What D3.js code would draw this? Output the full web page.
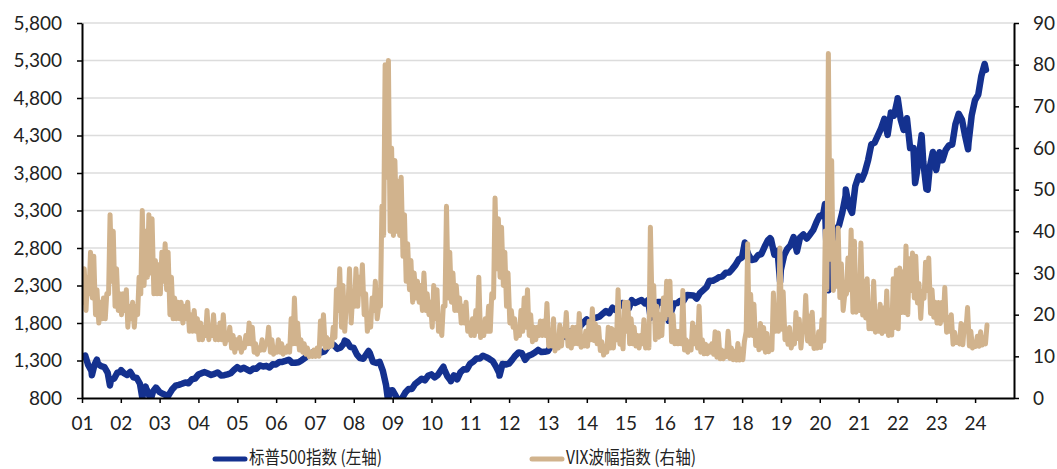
<!DOCTYPE html>
<html>
<head>
<meta charset="utf-8">
<script src="https://cdn.jsdelivr.net/npm/d3@7"></script>
<style>
  body { margin: 0; background: #fff; }
  svg { display: block; }
  .tick text { font-family: Lato, "Noto Sans", sans-serif; font-size: 19px; fill: #222; }
</style>
</head>
<body>
<script>
// S&P 500 month-end closes, Jan 2001 .. Mar 2024
var spxMonthly = [
  1366,1240,1160,1249,1256,1224,1211,1134,1041,1060,1139,1148,
  1130,1107,1147,1077,1067,990,912,916,815,886,936,880,
  856,841,848,917,964,975,990,1008,996,1051,1058,1112,
  1131,1145,1126,1107,1121,1141,1101,1104,1115,1130,1174,1212,
  1181,1204,1181,1157,1192,1191,1234,1220,1229,1207,1249,1248,
  1280,1281,1295,1311,1270,1270,1277,1304,1336,1378,1401,1418,
  1438,1407,1421,1482,1531,1503,1455,1474,1527,1549,1481,1468,
  1379,1331,1323,1386,1400,1280,1267,1283,1166,969,896,903,
  826,735,798,873,919,919,987,1021,1057,1036,1096,1115,
  1074,1104,1169,1187,1089,1031,1102,1049,1141,1183,1181,1258,
  1286,1327,1326,1364,1345,1321,1292,1219,1131,1253,1247,1258,
  1312,1366,1408,1398,1310,1362,1379,1407,1441,1412,1416,1426,
  1498,1515,1569,1598,1631,1606,1686,1633,1682,1757,1806,1848,
  1783,1859,1872,1884,1924,1960,1931,2003,1972,2018,2068,2059,
  1995,2105,2068,2086,2107,2063,2104,1972,1920,2079,2080,2044,
  1940,1932,2060,2065,2097,2099,2174,2171,2168,2126,2199,2239,
  2279,2364,2363,2384,2412,2423,2470,2472,2519,2575,2648,2674,
  2824,2714,2641,2648,2705,2718,2816,2902,2914,2712,2760,2507,
  2704,2784,2834,2946,2752,2942,2980,2926,2977,3038,3141,3231,
  3226,2954,2585,2912,3044,3100,3271,3500,3363,3270,3622,3756,
  3714,3811,3973,4181,4204,4298,4395,4523,4308,4605,4567,4766,
  4516,4374,4530,4132,4132,3785,4130,3955,3586,3872,4080,3840,
  4077,3970,4109,4169,4180,4450,4589,4508,4288,4194,4568,4770,
  4846,5096,5254
];

// intra-month turning points of the S&P line
var spxExtremes = [
  ["2001-01-02",1350],["2001-04-04",1103],["2001-05-21",1312],["2001-09-21",966],
  ["2002-01-04",1172],["2002-07-23",797],["2002-08-22",950],["2002-10-09",777],
  ["2002-11-27",938],["2003-03-11",800],["2007-10-09",1565],["2008-05-19",1426],
  ["2008-11-20",752],["2009-03-09",677],["2010-04-23",1217],["2010-07-02",1023],
  ["2011-10-03",1099],["2015-08-25",1867],["2016-02-11",1829],["2018-01-26",2873],
  ["2018-09-20",2931],["2018-12-24",2351],["2020-02-19",3386],["2020-03-23",2237],
  ["2020-09-02",3580],["2022-01-03",4797],["2022-06-16",3667],["2022-08-16",4305],
  ["2022-10-12",3577],["2023-10-27",4117],["2024-04-12",5175]
];

// VIX monthly low / high, Jan 2001 .. Apr 2024
var vixLow = [
  23,21,25,24,20,18,19,19,25,28,22,21,
  20,21,17,19,17,20,25,27,29,30,25,25,
  25,28,26,20,19,19,19,18,19,16,16,16,
  14,14,15,14,15,14,14,14,13,14,12,11,
  12,11,12,13,13,11,10.5,11.5,11.5,13,11,10.5,
  11,11,10.5,11,11,13,13,11.5,11,10.5,9.9,10,
  10,10,13,12,12.2,12.5,14.5,21,17,16,22,18,
  22,22,25,20,16,17,21,19,22,39,53,40,
  39,40,39,34,28,26,23,24,23,21,21,20,
  17,19,16,15,22,24,23,21,21,18,18,16,
  15,15,16,14.5,15,16,16,24,31,29,27,22,
  18,17,14.3,15,16,17,15,13.5,14,15,15,15,
  12.4,12.5,11.3,12,12.5,15,12.5,12,13,13,12.2,12.5,
  12.4,14,13.8,13,11.4,10.3,11,12,12,14,12.9,11.8,
  16,13,13,12.5,12,13,12,12,20,14,14.6,15,
  19,20,13.5,13,13,13,11.5,11,11.5,13,12,11,
  10.6,10.6,11,10.5,9.8,9.4,9.4,10,9.5,9.2,9.1,9.1,
  9.2,16,15,15,12.6,11.6,12,11,11.1,11.6,16,16,
  16.5,14,12.9,12,13,14.3,12,16,13.7,13,11.9,12,
  12.1,13.7,26,33.3,25.8,26.8,24.1,21,25,26,20.6,20.6,
  21,19.9,19.2,16.6,16.6,15.8,16,15.5,16,15,15.1,16.9,
  16.6,20.5,20.5,20,25.8,24,22.8,19.1,23.9,25.8,20.3,19.4,
  18,17.9,18.7,15.8,16,12.9,13.3,13,12.8,16.7,12.5,12,
  12.4,12.4,12.7,13
];
var vixHigh = [
  31,29,35,34,26,23,24,25,44,40,31,25,
  25,26,22,23,22,29,45,40,44,43,33,32,
  35,37,35,29,24,23,23,22,23,20,21,19,
  18,17,21,17,20,17,18,20,15,17,15,14,
  14.5,13,15,18,17,13,12,14,13,17,14,12,
  14,13,12,12.5,19,24,18,14,13,12,11,11.5,
  12,18.5,20,14.5,14,17,26,31,27,22,31,25,
  31,29,32,25,19,24,28,22,46,80,81,60,
  57,52,53,44,37,33,30,28,27,30,25,23,
  27,26,18,22,46,35,30,27,24,22,23,18,
  19,21,29,17,19,22,25,48,43,41,35,30,
  21,19,17,21,24,26,20,17,17,18.5,18.5,22.7,
  14.5,19,14,17.5,16.5,20.5,16,17,17,20.3,14,16,
  18.4,21.4,17.8,17,13.5,12.5,17,16.7,16.3,26,15,23,
  23,19,17,15,15,18.8,17,41,27,22,20,24,
  28,28,20,16,16,25.8,14,13.5,18,17,22,14,
  12.9,12.5,13,15.9,15.6,11.5,11.2,16,12,11.2,13.1,11.7,
  13.5,37,24.9,22.5,16.2,17.9,16.9,15.5,14,25.2,21.9,36,
  25.5,16.5,16.9,14.5,20.5,18.9,16.1,24.6,19.7,20.6,13.4,15.9,
  18.8,40.1,82.7,57,37.2,40.8,32.2,24.5,33.6,40.3,37.6,25,
  37.2,28,28.6,20,28,20.7,22.5,21.6,25.7,21,28.6,30.7,
  31.2,30.3,36.5,33.4,34.8,34,27.5,25.6,32.6,33.6,26,23,
  22.9,22.9,26.5,19.4,20,15.8,14,17.9,17.5,21.7,16,13,
  14.8,15.9,14.5,17.5
];

var leftTicks = [800,1300,1800,2300,2800,3300,3800,4300,4800,5300,5800];
var rightTicks = [0,10,20,30,40,50,60,70,80,90];
var yearTicks = d3.range(2001, 2025);
var legendNames = ["标普500指数 (左轴)", "VIX波幅指数 (右轴)"];

var width = 1057, height = 469;
var margin = {left: 82, right: 43, top: 23, bottom: 71};
var blue = "#14318f", tan = "#d1b38d";

var parse = d3.timeParse("%Y-%m-%d");

// build series
var spx = spxMonthly.map(function(v, i) {
  return {date: new Date(2001, i + 1, 0), value: v};
}).concat(spxExtremes.map(function(d) {
  return {date: parse(d[0]), value: d[1]};
}));
spx.sort(function(a, b) { return a.date - b.date; });

var vix = [];
vixLow.forEach(function(lo, i) {
  vix.push({date: new Date(2001, i, 8), value: lo});
  vix.push({date: new Date(2001, i, 22), value: vixHigh[i]});
});

var svg = d3.select("body").append("svg").attr("width", width).attr("height", height);

var x = d3.scaleTime()
  .domain([new Date(2001, 0, 1), new Date(2025, 0, 1)])
  .range([margin.left, width - margin.right]);
var yL = d3.scaleLinear().domain([800, 5800]).range([height - margin.bottom, margin.top]);
var yR = d3.scaleLinear().domain([0, 90]).range([height - margin.bottom, margin.top]);

// gridlines
svg.append("g").selectAll("line").data(leftTicks.slice(1)).enter().append("line")
  .attr("x1", margin.left).attr("x2", width - margin.right)
  .attr("y1", function(d) { return yL(d); }).attr("y2", function(d) { return yL(d); })
  .attr("stroke", "#dcdcdc").attr("stroke-width", 1.5);

svg.append("clipPath").attr("id", "plot").append("rect")
  .attr("x", margin.left).attr("y", 0)
  .attr("width", width - margin.left - margin.right).attr("height", height - margin.bottom);

var plot = svg.append("g").attr("clip-path", "url(#plot)");

plot.append("path").datum(spx)
  .attr("fill", "none").attr("stroke", blue).attr("stroke-width", 6.5)
  .attr("stroke-linejoin", "round").attr("stroke-linecap", "round")
  .attr("d", d3.line().x(function(d) { return x(d.date); }).y(function(d) { return yL(d.value); }));

plot.append("path").datum(vix)
  .attr("fill", "none").attr("stroke", tan).attr("stroke-width", 5)
  .attr("stroke-linejoin", "round").attr("stroke-linecap", "round")
  .attr("d", d3.line().x(function(d) { return x(d.date); }).y(function(d) { return yR(d.value); }));

// axes
var axL = svg.append("g").attr("transform", "translate(" + margin.left + ",0)")
  .call(d3.axisLeft(yL).tickValues(leftTicks).tickFormat(d3.format(",")).tickSize(5).tickSizeOuter(0).tickPadding(15));
var axR = svg.append("g").attr("transform", "translate(" + (width - margin.right) + ",0)")
  .call(d3.axisRight(yR).tickValues(rightTicks).tickSize(5).tickSizeOuter(0).tickPadding(14));
var axB = svg.append("g").attr("transform", "translate(0," + (height - margin.bottom) + ")")
  .call(d3.axisBottom(x).tickValues(yearTicks.map(function(y) { return new Date(y, 0, 1); }))
    .tickFormat(d3.timeFormat("%y")).tickSize(5).tickSizeOuter(0).tickPadding(14));

[axL, axR, axB].forEach(function(a) {
  a.select(".domain").attr("stroke", "#000").attr("stroke-width", 2);
  a.selectAll(".tick line").attr("stroke", "#000").attr("stroke-width", 1.5);
});

// legend
var legend = svg.append("g");
var legendX = [215, 532], legendW = [133, 130];
legendNames.forEach(function(name, i) {
  legend.append("line")
    .attr("x1", legendX[i]).attr("x2", legendX[i] + 30)
    .attr("y1", 459).attr("y2", 459)
    .attr("stroke", i === 0 ? blue : tan).attr("stroke-width", 5).attr("stroke-linecap", "round");
  legend.append("text")
    .attr("x", legendX[i] + 34).attr("y", 464)
    .attr("textLength", legendW[i]).attr("lengthAdjust", "spacingAndGlyphs")
    .style("font-family", "'Noto Sans CJK SC', sans-serif").style("font-size", "18px").style("fill", "#222")
    .text(name);
});
</script>
</body>
</html>
